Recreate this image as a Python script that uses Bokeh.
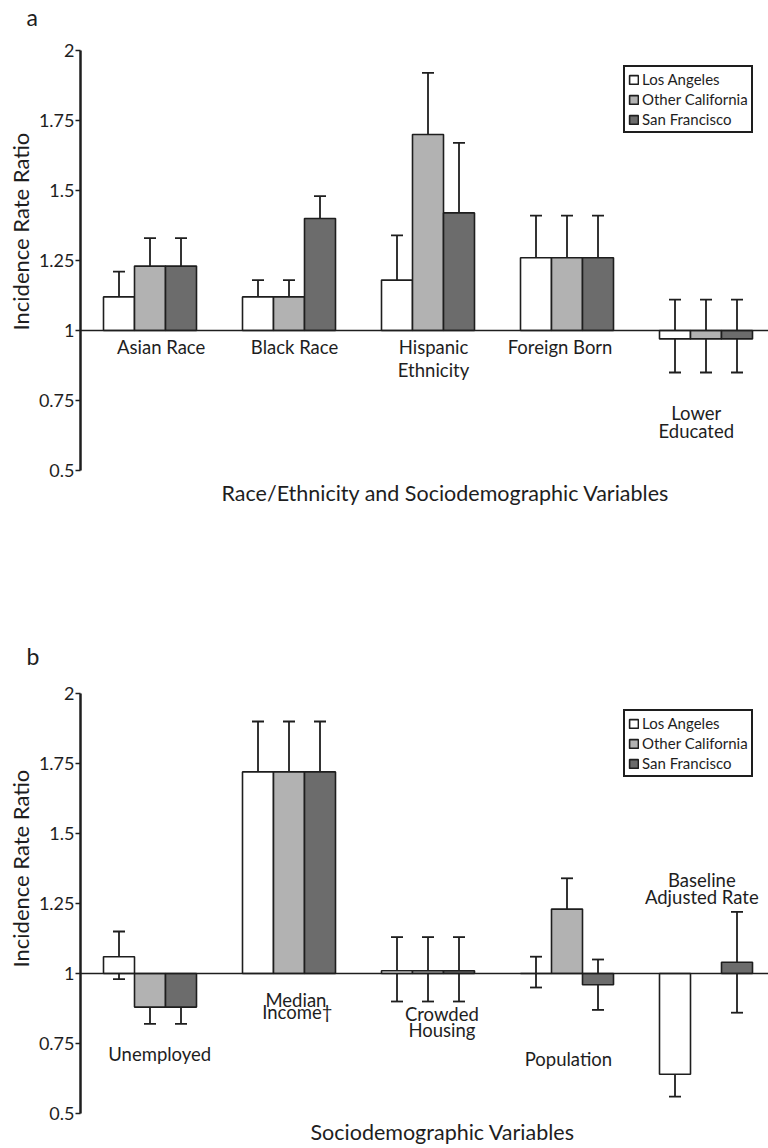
import math
from bokeh.plotting import figure
from bokeh.layouts import column
from bokeh.models import (Range1d, FixedTicker, Span, Legend, LegendItem,
                          ColumnDataSource, Whisker, TeeHead, Title)
from bokeh.core.properties import value
from bokeh.embed import file_html
from bokeh.resources import INLINE

FONT = "Lato"
INK = "#1e1e1e"
NAN = float("nan")

# ---------------- data ----------------
cities = ["Los Angeles", "Other California", "San Francisco"]
city_colors = ["#ffffff", "#b2b2b2", "#6c6c6c"]

cats_a = ["Asian Race", "Black Race", "Hispanic Ethnicity", "Foreign Born", "Lower Educated"]
la_a = [1.12, 1.12, 1.18, 1.26, 0.97]
la_a_lo = [1.03, 1.06, 1.04, 1.14, 0.85]
la_a_hi = [1.21, 1.18, 1.34, 1.41, 1.11]
oc_a = [1.23, 1.12, 1.70, 1.26, 0.97]
oc_a_lo = [1.13, 1.06, 1.51, 1.14, 0.85]
oc_a_hi = [1.33, 1.18, 1.92, 1.41, 1.11]
sf_a = [1.23, 1.40, 1.42, 1.26, 0.97]
sf_a_lo = [1.13, 1.32, 1.21, 1.14, 0.85]
sf_a_hi = [1.33, 1.48, 1.67, 1.41, 1.11]

cats_b = ["Unemployed", "Median Income\u2020", "Crowded Housing", "Population", "Baseline Adjusted Rate"]
la_b = [1.06, 1.72, 1.01, 1.00, 0.64]
la_b_lo = [0.98, 1.56, 0.90, 0.95, 0.56]
la_b_hi = [1.15, 1.90, 1.13, 1.06, 0.73]
oc_b = [0.88, 1.72, 1.01, 1.23, NAN]
oc_b_lo = [0.82, 1.56, 0.90, 1.13, NAN]
oc_b_hi = [0.94, 1.90, 1.13, 1.34, NAN]
sf_b = [0.88, 1.72, 1.01, 0.96, 1.04]
sf_b_lo = [0.82, 1.54, 0.90, 0.87, 0.86]
sf_b_hi = [0.94, 1.90, 1.13, 1.05, 1.22]

y_ticks = [0.5, 0.75, 1, 1.25, 1.5, 1.75, 2]
y_tick_labels = ["0.5", "0.75", "1", "1.25", "1.5", "1.75", "2"]

# category label lines and their placement (group index, x shift, y value)
labels_a = [("Asian Race", 0, 0.08, 0.94), ("Black Race", 1, 0.04, 0.94),
            ("Hispanic", 2, 0.04, 0.94), ("Ethnicity", 2, 0.04, 0.86),
            ("Foreign Born", 3, -0.05, 0.94),
            ("Lower", 4, -0.07, 0.705), ("Educated", 4, -0.07, 0.642)]
labels_b = [("Unemployed", 0, 0.07, 0.713),
            ("Median", 1, 0.05, 0.904), ("Income\u2020", 1, 0.06, 0.864),
            ("Crowded", 2, 0.10, 0.857), ("Housing", 2, 0.10, 0.798),
            ("Population", 3, 0.01, 0.694),
            ("Baseline", 4, -0.03, 1.333), ("Adjusted Rate", 4, -0.03, 1.272)]

W = 768
LEFT = 80
GROUP_PX = 139.0
PX_PER_UNIT = 280.0
FRAME_W = W - LEFT
BAR_W = 31.0 / GROUP_PX


def panel(series, letter, xtitle, labels, height, top, bottom, leg_bottom,
          ytitle_offset, xtitle_offset, xtitle_standoff):
    frame_h = height - top - bottom
    y_end = 0.5 + frame_h / PX_PER_UNIT
    p = figure(width=W, height=height, output_backend="svg", toolbar_location=None,
               x_range=Range1d(0, FRAME_W / GROUP_PX), y_range=Range1d(0.5, y_end),
               x_axis_location=None,
               min_border_left=LEFT, min_border_right=0, min_border_top=top,
               min_border_bottom=bottom)
    p.outline_line_color = None
    p.grid.visible = False
    p.background_fill_color = "white"

    ax = p.yaxis[0]
    ax.bounds = (0.5, 2.0)
    ax.ticker = FixedTicker(ticks=y_ticks, minor_ticks=[])
    ax.major_label_overrides = {t: s for t, s in zip(y_ticks, y_tick_labels)}
    ax.axis_line_width = 2.5
    ax.axis_line_color = INK
    ax.major_tick_line_width = 1.5
    ax.major_tick_line_color = INK
    ax.major_tick_in = 0
    ax.major_tick_out = 5
    ax.minor_tick_line_color = None
    ax.major_label_text_font = FONT
    ax.major_label_text_font_size = "18px"
    ax.major_label_text_color = INK
    ax.major_label_standoff = 1

    p.add_layout(Title(text="Incidence Rate Ratio", align="left", offset=ytitle_offset,
                       standoff=3, vertical_align="bottom", text_font=FONT,
                       text_font_size="22px", text_font_style="normal",
                       text_color=INK), "left")
    p.add_layout(Title(text=xtitle, align="left", offset=xtitle_offset,
                       standoff=xtitle_standoff, vertical_align="bottom", text_font=FONT,
                       text_font_size="21.5px", text_font_style="normal",
                       text_color=INK), "below")

    offsets = [-BAR_W, 0.0, BAR_W]
    items = []
    for (vals, lo, hi), name, col, off in zip(series, cities, city_colors, offsets):
        xs, tops, los, his = [], [], [], []
        for i, (v, l, h) in enumerate(zip(vals, lo, hi)):
            if math.isnan(v):
                continue
            xs.append(i + 0.5 + off)
            tops.append(v)
            los.append(l)
            his.append(h)
        src = ColumnDataSource(dict(x=xs, top=tops, lo=los, hi=his))
        r = p.vbar(x="x", top="top", bottom=1, width=BAR_W, source=src,
                   fill_color=col, line_color=INK, line_width=1.6)
        items.append(LegendItem(label=name, renderers=[r]))
        w = Whisker(source=src, base="x", upper="hi", lower="lo",
                    line_color=INK, line_width=1.8,
                    upper_head=TeeHead(size=12, line_color=INK, line_width=1.8),
                    lower_head=TeeHead(size=12, line_color=INK, line_width=1.8))
        p.add_layout(w)

    p.add_layout(Span(location=1, dimension="width", line_color=INK, line_width=1.3))

    lsrc = ColumnDataSource(dict(
        x=[g + 0.5 + dx for (_, g, dx, _) in labels],
        y=[yv for (_, _, _, yv) in labels],
        t=[t for (t, _, _, _) in labels]))
    p.text(x="x", y="y", text="t", source=lsrc, text_align="center",
           text_baseline="middle", text_font=value(FONT), text_font_size="18.5px",
           text_color=INK)

    leg = Legend(items=items, location=(543, leg_bottom), border_line_color=INK,
                 border_line_width=2, border_line_alpha=1.0,
                 glyph_width=11, glyph_height=11,
                 label_height=18, label_standoff=3, spacing=2, padding=3, margin=0,
                 label_text_font=FONT, label_text_font_size="15px",
                 label_text_color=INK, background_fill_alpha=1)
    p.add_layout(leg)

    p.title.text = letter
    p.title.align = "left"
    p.title.offset = -54
    p.title.standoff = 0
    p.title.text_font = FONT
    p.title.text_font_size = "23px"
    p.title.text_font_style = "normal"
    p.title.text_color = INK
    return p


pa = panel([(la_a, la_a_lo, la_a_hi), (oc_a, oc_a_lo, oc_a_hi), (sf_a, sf_a_lo, sf_a_hi)],
           "a", "Race/Ethnicity and Sociodemographic Variables", labels_a,
           height=600, top=30, bottom=130, leg_bottom=337,
           ytitle_offset=140, xtitle_offset=141, xtitle_standoff=14)
pb = panel([(la_b, la_b_lo, la_b_hi), (oc_b, oc_b_lo, oc_b_hi), (sf_b, sf_b_lo, sf_b_hi)],
           "b", "Sociodemographic Variables", labels_b,
           height=548, top=69, bottom=35, leg_bottom=336,
           ytitle_offset=146, xtitle_offset=230, xtitle_standoff=6)

layout = column(pa, pb, spacing=0)
open("out.html", "w").write(file_html(layout, INLINE))
